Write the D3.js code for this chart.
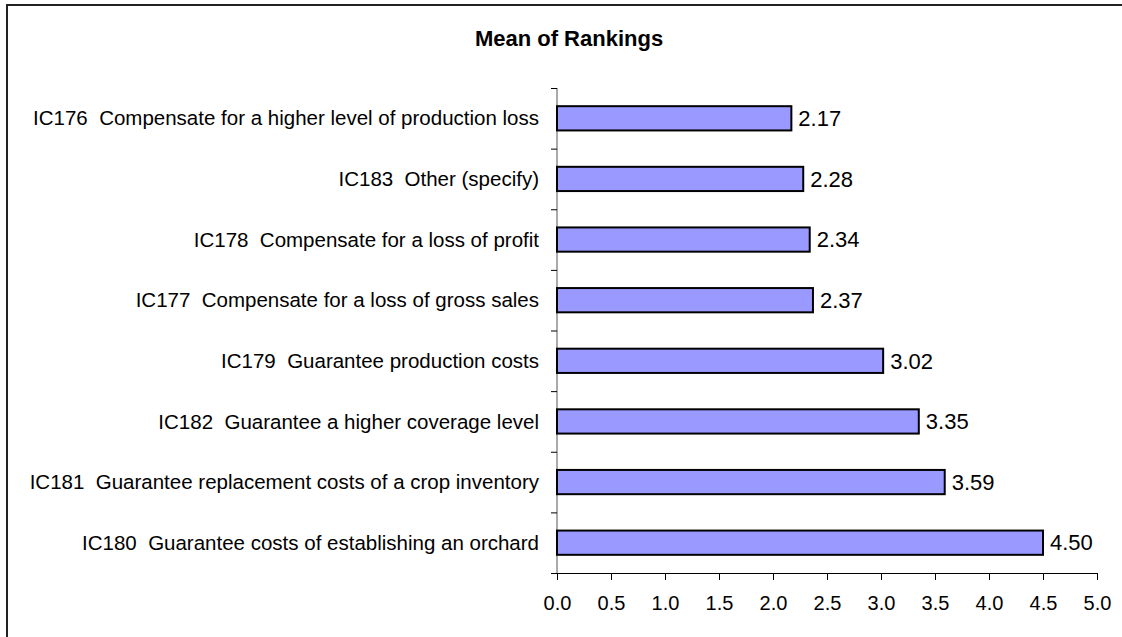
<!DOCTYPE html>
<meta charset="utf-8">
<style>
    body { margin: 0; background: #fff; }
    svg { display: block; font-family: "Liberation Sans", Arial, sans-serif; }
</style>
<svg width="1122" height="637"></svg>

<script src="https://d3js.org/d3.v7.min.js"></script>
<script>
    var categories = [
        "IC176  Compensate for a higher level of production loss",
        "IC183  Other (specify)",
        "IC178  Compensate for a loss of profit",
        "IC177  Compensate for a loss of gross sales",
        "IC179  Guarantee production costs",
        "IC182  Guarantee a higher coverage level",
        "IC181  Guarantee replacement costs of a crop inventory",
        "IC180  Guarantee costs of establishing an orchard"
    ];
    var values = [2.17, 2.28, 2.34, 2.37, 3.02, 3.35, 3.59, 4.50];
    var xTicks = [0, 0.5, 1, 1.5, 2, 2.5, 3, 3.5, 4, 4.5, 5];

    var dataset = categories.map(function (c, i) {
        return {name: c, num: values[i]};
    });

    var svg = d3.select("svg"),
        LEFT = 557, RIGHT = 1097, TOP = 88, BOTTOM = 573;

    // outer frame (right and bottom edges run off the picture)
    svg.append("rect")
        .attr("x", 7).attr("y", 5)
        .attr("width", 1200).attr("height", 700)
        .attr("fill", "none")
        .attr("stroke", "#222")
        .attr("stroke-width", 2);

    svg.append("text")
        .attr("x", 569)
        .attr("y", 46)
        .attr("text-anchor", "middle")
        .attr("font-size", 22)
        .attr("font-weight", "bold")
        .text("Mean of Rankings");

    var x = d3.scaleLinear().domain([0, 5]).range([LEFT, RIGHT]);
    var y = d3.scaleBand()
        .domain(categories)
        .range([TOP, BOTTOM])
        .paddingInner(0.6)
        .paddingOuter(0.3);

    // x axis
    var xAxis = svg.append("g")
        .attr("transform", "translate(0," + BOTTOM + ")")
        .call(d3.axisBottom(x).tickValues(xTicks).tickSize(7).tickSizeOuter(0)
            .tickFormat(d3.format(".1f")));
    xAxis.select(".domain").attr("stroke", "#000").attr("d", "M" + (LEFT - 6) + ",0.5H" + RIGHT);
    xAxis.selectAll(".tick line").attr("stroke", "#000");
    xAxis.selectAll(".tick text")
        .attr("y", 30)
        .attr("dy", "0.35em")
        .attr("font-size", 20)
        .attr("font-family", "Liberation Sans, Arial, sans-serif")
        .attr("fill", "#000");

    // y axis line and boundary ticks
    svg.append("line")
        .attr("x1", LEFT).attr("x2", LEFT)
        .attr("y1", TOP).attr("y2", BOTTOM)
        .attr("stroke", "#555");
    var bounds = d3.range(categories.length).map(function (i) {
        return TOP + i * y.step();
    });
    svg.selectAll(".ytick")
        .data(bounds)
        .enter()
        .append("line")
        .attr("class", "ytick")
        .attr("x1", LEFT - 6).attr("x2", LEFT)
        .attr("y1", function (d) { return d + 0.5; })
        .attr("y2", function (d) { return d + 0.5; })
        .attr("stroke", "#000");

    // category labels
    svg.selectAll(".cat")
        .data(dataset)
        .enter()
        .append("text")
        .attr("class", "cat")
        .attr("x", LEFT - 18)
        .attr("y", function (d) { return y(d.name) + y.bandwidth() / 2; })
        .attr("dy", "0.35em")
        .attr("text-anchor", "end")
        .attr("font-size", 20.5)
        .style("white-space", "pre")
        .text(function (d) { return d.name; });

    // bars
    svg.selectAll(".bar")
        .data(dataset)
        .enter()
        .append("rect")
        .attr("class", "bar")
        .attr("x", x(0))
        .attr("y", function (d) { return y(d.name); })
        .attr("width", function (d) { return x(d.num) - x(0); })
        .attr("height", y.bandwidth())
        .attr("fill", "#9999ff")
        .attr("stroke", "#000")
        .attr("stroke-width", 2);

    // value labels
    svg.selectAll(".val")
        .data(dataset)
        .enter()
        .append("text")
        .attr("class", "val")
        .attr("x", function (d) { return x(d.num) + 7; })
        .attr("y", function (d) { return y(d.name) + y.bandwidth() / 2; })
        .attr("dy", "0.35em")
        .attr("font-size", 22)
        .text(function (d) { return d.num.toFixed(2); });
</script>
